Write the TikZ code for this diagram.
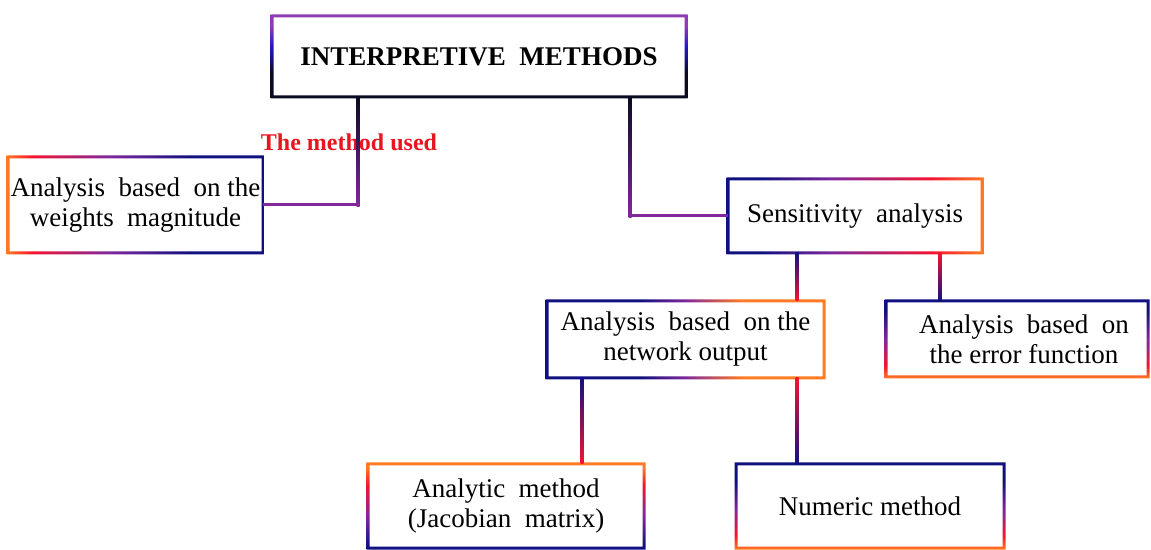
\documentclass[tikz,border=0pt]{standalone}
\usepackage{fontspec}
\setmainfont{Liberation Serif}
\usetikzlibrary{calc}
\definecolor{cN}{HTML}{10107E}
\definecolor{cP}{HTML}{80289C}
\definecolor{cR}{HTML}{F51430}
\definecolor{cO}{HTML}{FF7A22}
\definecolor{cK}{HTML}{0A0A20}
\definecolor{cB}{HTML}{2418C8}
\definecolor{cV}{HTML}{8E3CB0}
\definecolor{cLab}{HTML}{E8141E}
\pgfdeclarehorizontalshading{shW}{100bp}{color(0bp)=(cO); color(25bp)=(cO); color(30bp)=(cR); color(45bp)=(cP); color(61bp)=(cN); color(100bp)=(cN)}
\pgfdeclarehorizontalshading{shS}{100bp}{color(0bp)=(cN); color(32bp)=(cN); color(46bp)=(cP); color(65bp)=(cR); color(75bp)=(cO); color(100bp)=(cO)}
\pgfdeclarehorizontalshading{shNet}{100bp}{color(0bp)=(cN); color(42bp)=(cN); color(50bp)=(cP); color(60bp)=(cO); color(100bp)=(cO)}
\pgfdeclareverticalshading{shTop}{100bp}{color(0bp)=(cK); color(40bp)=(cK); color(56bp)=(cB); color(68bp)=(cV); color(100bp)=(cV)}
\pgfdeclareverticalshading{shErr}{100bp}{color(0bp)=(cO); color(25bp)=(cO); color(33bp)=(cR); color(50bp)=(cP); color(68bp)=(cN); color(100bp)=(cN)}
\pgfdeclareverticalshading{shAna}{100bp}{color(0bp)=(cN); color(27bp)=(cN); color(44bp)=(cP); color(62bp)=(cR); color(72bp)=(cO); color(100bp)=(cO)}
\pgfdeclareverticalshading{shNum}{100bp}{color(0bp)=(cO); color(25bp)=(cO); color(33bp)=(cR); color(48bp)=(cP); color(64bp)=(cN); color(100bp)=(cN)}
\newcommand\gframe[2]{\shade[shading=#2,even odd rule]
 ([shift={(-0.75pt,0.75pt)}]#1.north west) rectangle ([shift={(0.75pt,-0.75pt)}]#1.south east)
 ([shift={(0.75pt,-0.75pt)}]#1.north west) rectangle ([shift={(-0.75pt,0.75pt)}]#1.south east);}
\tikzset{
 box/.style={inner sep=0pt, outer sep=0pt, align=center, font=\fontsize{13.5}{15}\selectfont},
}
\begin{document}
\begin{tikzpicture}[x=0.5pt,y=-0.5pt]
\useasboundingbox (0,0) rectangle (1151,550);
% nodes
\node[box, minimum width=207pt, minimum height=40.5pt, font=\bfseries\fontsize{13.5}{15}\selectfont] (top) at (479,56.5) {INTERPRETIVE\ \ METHODS};
\node[box, minimum width=127.5pt, minimum height=48pt] (wts) at (135.5,205) {Analysis\ \ based\ \ on the\\weights\ \ magnitude};
\node[box, minimum width=127pt, minimum height=37pt] (sens) at (855,216) {Sensitivity\ \ analysis};
\node[box, minimum width=138.5pt, minimum height=38.5pt] (net) at (685.5,339.5) {Analysis\ \ based\ \ on the\\network output};
\node[box, minimum width=131pt, minimum height=38pt] (err) at (1017,339) {\hspace*{7pt}Analysis\ \ based\ \ on\\\hspace*{7pt}the error function};
\node[box, minimum width=138pt, minimum height=42pt] (ana) at (506,506) {Analytic\ \ method\\(Jacobian\ \ matrix)};
\node[box, minimum width=134pt, minimum height=42pt] (num) at (870,506) {Numeric method};
\node[inner sep=0pt, text=cLab, font=\bfseries\fontsize{12}{14}\selectfont] (lab) at (349,142) {The method used};
% frames
\gframe{top}{shTop}
\gframe{wts}{shW}
\gframe{sens}{shS}
\gframe{net}{shNet}
\gframe{err}{shErr}
\gframe{ana}{shAna}
\gframe{num}{shNum}
% connector x positions
\coordinate (x1) at (358,0);
\coordinate (x2) at (630,0);
\coordinate (x3) at (797,0);
\coordinate (x4) at (940,0);
\coordinate (x5) at (582,0);
\coordinate (x6) at (797,0);
% connectors
\shade[top color=cK, middle color=cN, bottom color=cP] ($(top.south -| x1)+(-0.75pt,0)$) rectangle ($(wts.east -| x1)+(0.75pt,-0.75pt)$);
\fill[cP] ($(wts.east)+(0,0.75pt)$) rectangle ($(wts.east -| x1)+(0.75pt,-0.75pt)$);
\shade[top color=cK, middle color=cB, bottom color=cP] ($(top.south -| x2)+(-0.75pt,0)$) rectangle ($(sens.west -| x2)+(0.75pt,-0.75pt)$);
\fill[cP] ($(sens.west -| x2)+(-0.75pt,0.75pt)$) rectangle ($(sens.west)+(0,-0.75pt)$);
\shade[top color=cN, middle color=cP, bottom color=cR] ($(sens.south -| x3)+(-0.75pt,0)$) rectangle ($(net.north -| x3)+(0.75pt,0)$);
\shade[top color=cR, middle color=cP, bottom color=cN] ($(sens.south -| x4)+(-0.75pt,0)$) rectangle ($(err.north -| x4)+(0.75pt,0)$);
\shade[top color=cN, middle color=cP, bottom color=cR] ($(net.south -| x5)+(-0.75pt,0)$) rectangle ($(ana.north -| x5)+(0.75pt,0)$);
\shade[top color=cR, middle color=cP, bottom color=cN] ($(net.south -| x6)+(-0.75pt,0)$) rectangle ($(num.north -| x6)+(0.75pt,0)$);
\end{tikzpicture}
\end{document}
